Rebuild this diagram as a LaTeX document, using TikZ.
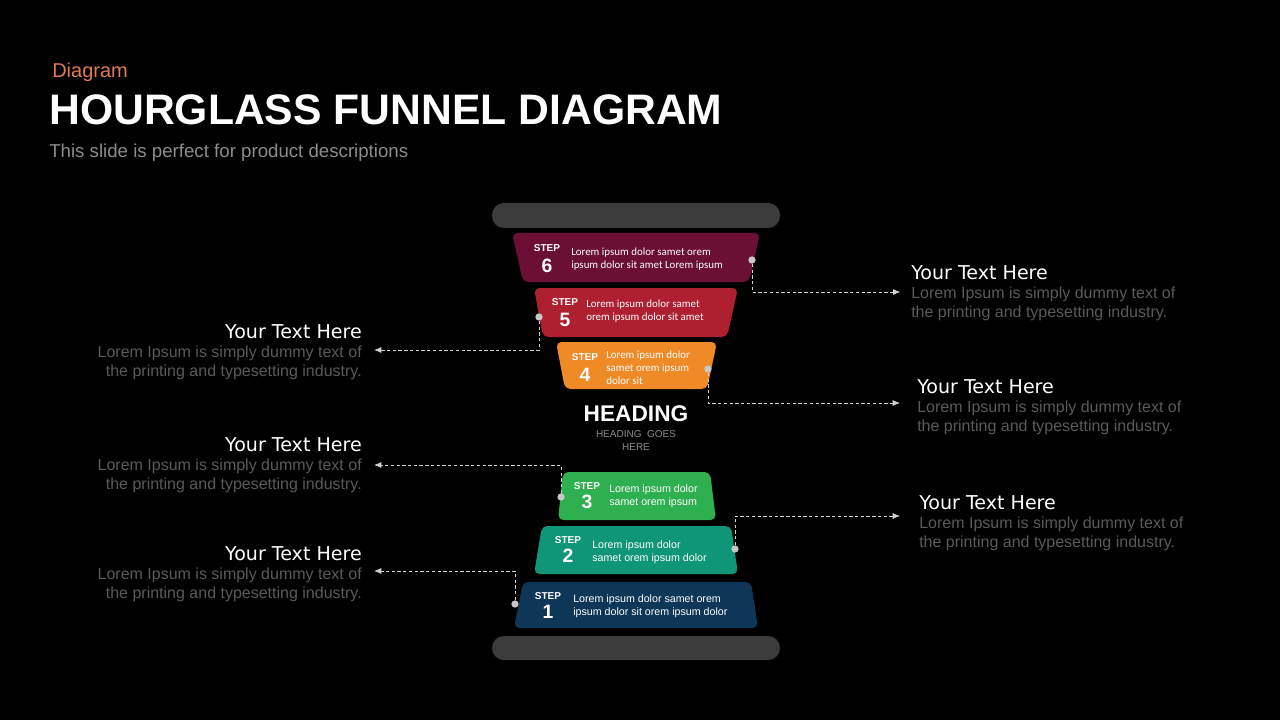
\documentclass[tikz,border=0pt]{standalone}
\usepackage{fontspec}
\setmainfont{Liberation Sans}
\newfontfamily\dejavu{DejaVu Sans}
\newfontfamily\carlito{Carlito}
\usepackage{tikz}
\usetikzlibrary{positioning,arrows.meta}

\definecolor{barfill}{HTML}{3C3C3C}
\definecolor{stepsix}{HTML}{6B0F35}
\definecolor{stepfive}{HTML}{AE1F30}
\definecolor{stepfour}{HTML}{EF8A27}
\definecolor{stepthree}{HTML}{2EAF50}
\definecolor{steptwo}{HTML}{0F9577}
\definecolor{stepone}{HTML}{0D3657}
\definecolor{dotgray}{HTML}{C8C8C8}
\definecolor{linegray}{HTML}{D2D2D2}
\definecolor{bodygray}{HTML}{5A5A5A}
\definecolor{subgray}{HTML}{8C8C8C}
\definecolor{kicker}{HTML}{E07B55}

\begin{document}
\begin{tikzpicture}[
x=0.75pt, y=-0.75pt,
every node/.style={inner sep=0pt, text=white},
steplabel/.style={font=\bfseries\fontsize{7.5}{8}\selectfont},
stepnum/.style={font=\bfseries\fontsize{14.5}{15}\selectfont},
descup/.style={align=left, anchor=west, font=\carlito\fontsize{8.2}{9.75}\selectfont},
desclow/.style={align=left, anchor=west, font=\fontsize{8}{9.75}\selectfont},
dot/.style={circle, fill=dotgray, minimum size=5.5pt},
headtxt/.style={font=\dejavu\fontsize{14.3}{16}\selectfont},
righttxt/.style={anchor=north west, align=left, text=bodygray, font=\fontsize{12}{14.25}\selectfont},
lefttxt/.style={anchor=north east, align=right, text=bodygray, font=\fontsize{12}{14.25}\selectfont},
link/.style={-{Latex[length=5.5pt,width=4.5pt]}, draw=linegray, line width=0.6pt, dash pattern=on 2.5pt off 1.8pt}
]

\fill[black] (0,0) rectangle (1280,720);
\useasboundingbox (0,0) rectangle (1280,720);

\node (kick) [anchor=base west, text=kicker, font=\fontsize{15}{18}\selectfont] at (52,78) {Diagram};
\node (title) [anchor=west, font=\bfseries\fontsize{32}{36}\selectfont] at (49,110) {HOURGLASS FUNNEL DIAGRAM};
\node (subtitle) [anchor=base west, text=subgray, font=\fontsize{14}{17}\selectfont] at (49,158) {This slide is perfect for product descriptions};

\fill[barfill, rounded corners=9pt] (492,203) rectangle (780,228);
\fill[barfill, rounded corners=9pt] (492,636) rectangle (780,660);

\fill[stepsix, rounded corners=4pt] (512,233) -- (760,233) -- (749,282) -- (523,282) -- cycle;
\fill[stepfive, rounded corners=4pt] (534,288) -- (738,288) -- (727,337) -- (543,337) -- cycle;
\fill[stepfour, rounded corners=4pt] (556,342) -- (717,342) -- (707,389) -- (565,389) -- cycle;
\fill[stepthree, rounded corners=4pt] (563,472) -- (710,472) -- (716,520) -- (558,520) -- cycle;
\fill[steptwo, rounded corners=4pt] (542,526) -- (731,526) -- (738,574) -- (534,574) -- cycle;
\fill[stepone, rounded corners=4pt] (523,582) -- (751,582) -- (758,628) -- (514,628) -- cycle;

\node (st6) [steplabel] at (547,248) {STEP};
\node (n6) [stepnum, below=5pt of st6] {6};
\node (t6) [descup] at (571,259.5) {Lorem ipsum dolor samet orem\\ipsum dolor sit amet Lorem ipsum};

\node (st5) [steplabel] at (565,302) {STEP};
\node (n5) [stepnum, below=5pt of st5] {5};
\node (t5) [descup] at (586,311.5) {Lorem ipsum dolor samet\\orem ipsum dolor sit amet};

\node (st4) [steplabel] at (585,357) {STEP};
\node (n4) [stepnum, below=5pt of st4] {4};
\node (t4) [descup] at (606,368) {Lorem ipsum dolor\\samet orem ipsum\\dolor sit};

\node (head) [font=\bfseries\fontsize{17}{18}\selectfont] at (636,414) {HEADING};
\node (headsub) [below=6pt of head, align=center, text=subgray, font=\fontsize{7.5}{9.75}\selectfont] {HEADING\ \ GOES\\HERE};

\node (st3) [steplabel] at (587,486) {STEP};
\node (n3) [stepnum, below=4pt of st3] {3};
\node (t3) [desclow] at (609,496.5) {Lorem ipsum dolor\\samet orem ipsum};

\node (st2) [steplabel] at (568,540) {STEP};
\node (n2) [stepnum, below=4pt of st2] {2};
\node (t2) [desclow] at (592,552.5) {Lorem ipsum dolor\\samet orem ipsum dolor};

\node (st1) [steplabel] at (548,596) {STEP};
\node (n1) [stepnum, below=4pt of st1] {1};
\node (t1) [desclow] at (573,606.5) {Lorem ipsum dolor samet orem\\ipsum dolor sit orem ipsum dolor};

\node (b6) [righttxt] at (911,287) {Lorem Ipsum is simply dummy text of\\the printing and typesetting industry.};
\node (h6) [headtxt, above=5.5pt of b6.north west, anchor=south west] {Your Text Here};
\node (b5) [lefttxt] at (362,346) {Lorem Ipsum is simply dummy text of\\the printing and typesetting industry.};
\node (h5) [headtxt, above=5.5pt of b5.north east, anchor=south east] {Your Text Here};
\node (b4) [righttxt] at (917,401) {Lorem Ipsum is simply dummy text of\\the printing and typesetting industry.};
\node (h4) [headtxt, above=5.5pt of b4.north west, anchor=south west] {Your Text Here};
\node (b3) [lefttxt] at (362,459) {Lorem Ipsum is simply dummy text of\\the printing and typesetting industry.};
\node (h3) [headtxt, above=5.5pt of b3.north east, anchor=south east] {Your Text Here};
\node (b2) [righttxt] at (919,517) {Lorem Ipsum is simply dummy text of\\the printing and typesetting industry.};
\node (h2) [headtxt, above=5.5pt of b2.north west, anchor=south west] {Your Text Here};
\node (b1) [lefttxt] at (362,568) {Lorem Ipsum is simply dummy text of\\the printing and typesetting industry.};
\node (h1) [headtxt, above=5.5pt of b1.north east, anchor=south east] {Your Text Here};

\coordinate (a6) at ([xshift=-8pt,yshift=-3.75pt]b6.north west);
\coordinate (a5) at ([xshift=9pt,yshift=-3pt]b5.north east);
\coordinate (a4) at ([xshift=-12.75pt,yshift=-1.5pt]b4.north west);
\coordinate (a3) at ([xshift=9pt,yshift=-4.5pt]b3.north east);
\coordinate (a2) at ([xshift=-14.25pt,yshift=0.75pt]b2.north west);
\coordinate (a1) at ([xshift=9pt,yshift=-2.25pt]b1.north east);

\node (d6) [dot] at (752,260) {};
\node (d5) [dot] at (539,317) {};
\node (d4) [dot] at (708,369) {};
\node (d3) [dot] at (561,497) {};
\node (d2) [dot] at (735,549) {};
\node (d1) [dot] at (515,604) {};

\draw[link] (d6) |- (a6);
\draw[link] (d5) |- (a5);
\draw[link] (d4) |- (a4);
\draw[link] (d3) |- (a3);
\draw[link] (d2) |- (a2);
\draw[link] (d1) |- (a1);

\end{tikzpicture}
\end{document}
